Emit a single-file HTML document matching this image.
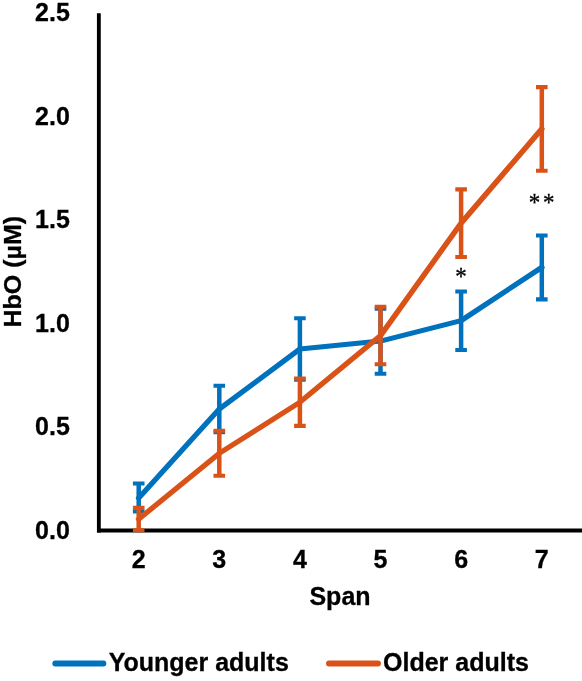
<!DOCTYPE html>
<html><head><meta charset="utf-8"><title>HbO by Span</title>
<style>
html,body{margin:0;padding:0;background:#fff;}
body{width:582px;height:681px;overflow:hidden;}
svg{display:block}
text{font-family:"Liberation Sans",Arial,Helvetica,sans-serif;font-weight:bold;font-size:25px;fill:#000;stroke:#000;stroke-width:0.3px}
.st{font-family:"Liberation Serif","DejaVu Serif",serif;font-weight:normal;font-size:23px;stroke:#000;stroke-width:0.3px}
</style></head><body>
<svg width="582" height="681" viewBox="0 0 582 681">
<rect width="582" height="681" fill="#fff"/>
<path d="M98.85 13.3V532.4" fill="none" stroke="#000" stroke-width="3.85"/>
<path d="M97 530.4H590" fill="none" stroke="#000" stroke-width="4.05"/>
<path d="M138.7 483.5V511.5M219.3 385.8V432.2M299.9 318.3V379.7M380.5 308.6V373.7M461.1 291.5V350.0M541.8 235.5V299.4" stroke="#0072bd" stroke-width="4.5" fill="none"/>
<path d="M132.9 483.5h11.6M132.9 511.5h11.6M213.5 385.8h11.6M213.5 432.2h11.6M294.1 318.3h11.6M294.1 379.7h11.6M374.7 308.6h11.6M374.7 373.7h11.6M455.3 291.5h11.6M455.3 350.0h11.6M536.0 235.5h11.6M536.0 299.4h11.6" stroke="#0072bd" stroke-width="4.1" fill="none"/>
<polyline transform="scale(1.12 1)" points="123.84,498.0 195.80,409.0 267.77,349.0 339.73,341.1 411.70,320.6 483.75,267.4" fill="none" stroke="#0072bd" stroke-width="5.05" stroke-linejoin="round" stroke-linecap="round"/>
<path d="M138.7 507.9V530.3M219.3 430.8V475.8M299.9 378.5V425.9M380.5 306.8V364.3M461.1 189.4V257.0M541.8 87.1V170.7" stroke="#d95319" stroke-width="4.5" fill="none"/>
<path d="M132.9 507.9h11.6M132.9 530.3h11.6M213.5 430.8h11.6M213.5 475.8h11.6M294.1 378.5h11.6M294.1 425.9h11.6M374.7 306.8h11.6M374.7 364.3h11.6M455.3 189.4h11.6M455.3 257.0h11.6M536.0 87.1h11.6M536.0 170.7h11.6" stroke="#d95319" stroke-width="4.1" fill="none"/>
<polyline transform="scale(1.12 1)" points="123.84,519.1 195.80,453.3 267.77,402.2 339.73,335.6 411.70,223.1 483.75,128.9" fill="none" stroke="#d95319" stroke-width="5.05" stroke-linejoin="round" stroke-linecap="round"/>
<text x="69.8" y="538.7" text-anchor="end">0.0</text>
<text x="69.8" y="435.2" text-anchor="end">0.5</text>
<text x="69.8" y="331.7" text-anchor="end">1.0</text>
<text x="69.8" y="228.2" text-anchor="end">1.5</text>
<text x="69.8" y="124.7" text-anchor="end">2.0</text>
<text x="69.8" y="21.2" text-anchor="end">2.5</text>
<text x="138.7" y="568.2" text-anchor="middle">2</text>
<text x="219.3" y="568.2" text-anchor="middle">3</text>
<text x="299.9" y="568.2" text-anchor="middle">4</text>
<text x="380.5" y="568.2" text-anchor="middle">5</text>
<text x="461.1" y="568.2" text-anchor="middle">6</text>
<text x="541.8" y="568.2" text-anchor="middle">7</text>

<text x="340" y="605.3" text-anchor="middle">Span</text>
<text transform="translate(20.8 271.7) rotate(-90) scale(1 0.92)" text-anchor="middle">HbO (µM)</text>
<text transform="translate(461 273.4) scale(1 1.1)" x="-5.75" y="10.64" class="st">*</text>
<text transform="translate(541.7 199.3) scale(1 1.1)" x="-12.9 1.35" y="10.64" class="st">**</text>
<path d="M55.3 663.5H103.4" stroke="#0072bd" stroke-width="5.9" stroke-linecap="round"/>
<text x="108.7" y="671.3">Younger adults</text>
<path d="M329 663.5H378" stroke="#d95319" stroke-width="5.9" stroke-linecap="round"/>
<text x="383" y="671.3">Older adults</text>
</svg>
</body></html>
